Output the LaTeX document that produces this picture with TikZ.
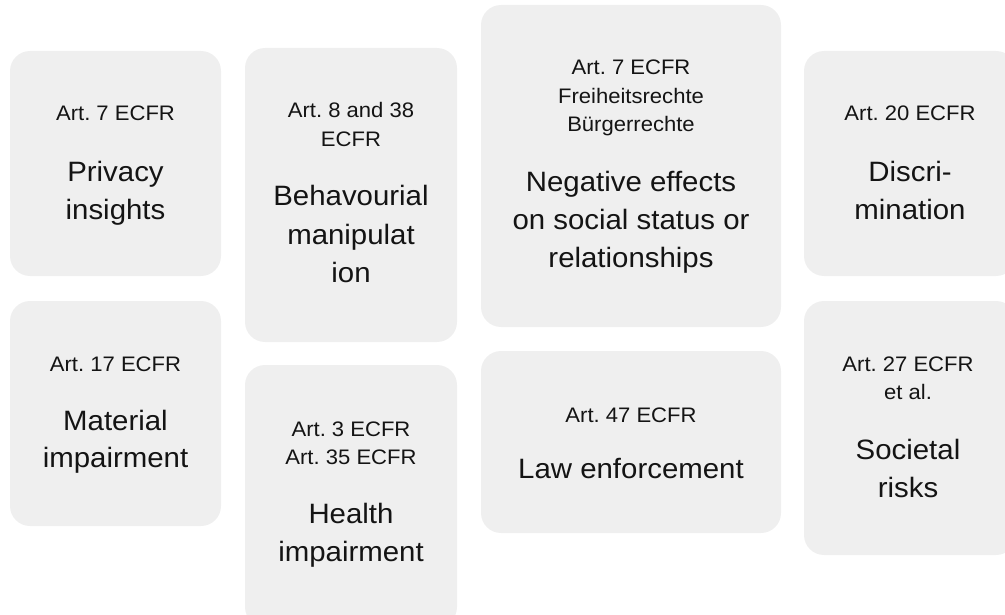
\documentclass[tikz,border=0pt]{standalone}
\usepackage{fontspec}
\setmainfont{Liberation Sans}[FakeStretch=1.05]
\frenchspacing
\definecolor{cardfill}{HTML}{EFEFEF}
\definecolor{ink}{HTML}{141414}

\tikzset{
  card/.style={fill=cardfill, draw=none, rounded corners=20pt, inner sep=0pt},
  article/.style={font=\fontsize{21}{25}\selectfont, text=ink, anchor=base, inner sep=0pt},
  risk/.style={font=\fontsize{28}{34}\selectfont, text=ink, anchor=base, inner sep=0pt},
}

% card from its corners: name, left, top, right, bottom
\newcommand\cardbox[5]{%
  \node[card, minimum width={(#4-#2)*1pt}, minimum height={(#5-#3)*1pt}]
    (#1) at ({(#2+#4)/2},{(#3+#5)/2}) {};}

% centred lines of text: name, x, first baseline, style, line pitch, lines
\newcommand\linesat[6]{%
  \foreach \lineitem [count=\k] in {#6}{%
    \node[#4] (#1-\k) at (#2,{#3+(\k-1)*#5}) {\lineitem};}}

\begin{document}
\begin{tikzpicture}[x=1pt, y=-1pt]
  \useasboundingbox (0,0) rectangle (1005,615);
  \clip (0,0) rectangle (1005,615);

  % cards
  \cardbox{privacy}{10}{51}{221}{276}
  \cardbox{behaviour}{245}{48}{457}{342}
  \cardbox{social}{481}{5}{781}{327}
  \cardbox{discrim}{804}{51}{1016}{276}
  \cardbox{material}{10}{301}{221}{526}
  \cardbox{health}{245}{365}{457}{627}
  \cardbox{law}{481}{351}{781}{533}
  \cardbox{societal}{804}{301}{1016}{555}

  % articles and risks
  \linesat{privacy-a}{115.5}{121}{article}{28.5}{Art. 7 ECFR}
  \linesat{privacy-r}{115.5}{182}{risk}{37.5}{Privacy, insights}

  \linesat{behaviour-a}{351}{118}{article}{28.5}{Art. 8 and 38, ECFR}
  \linesat{behaviour-r}{351}{206}{risk}{38.5}{Behavourial, manipulat, ion}

  \linesat{social-a}{631}{75}{article}{28.5}{Art. 7 ECFR, Freiheitsrechte, Bürgerrechte}
  \linesat{social-r}{631}{192}{risk}{37.5}{Negative effects, on social status or, relationships}

  \linesat{discrim-a}{910}{121}{article}{28.5}{Art. 20 ECFR}
  \linesat{discrim-r}{910}{182}{risk}{37.5}{Discri-, mination}

  \linesat{material-a}{115.5}{371}{article}{28.5}{Art. 17 ECFR}
  \linesat{material-r}{115.5}{430}{risk}{37.5}{Material, impairment}

  \linesat{health-a}{351}{436}{article}{28.5}{Art. 3 ECFR, Art. 35 ECFR}
  \linesat{health-r}{351}{523}{risk}{38.5}{Health, impairment}

  \linesat{law-a}{631}{422}{article}{28.5}{Art. 47 ECFR}
  \linesat{law-r}{631}{478}{risk}{37.5}{Law enforcement}

  \linesat{societal-a}{908}{371}{article}{28.5}{Art. 27 ECFR, et al.}
  \linesat{societal-r}{908}{459}{risk}{38}{Societal, risks}
\end{tikzpicture}
\end{document}
